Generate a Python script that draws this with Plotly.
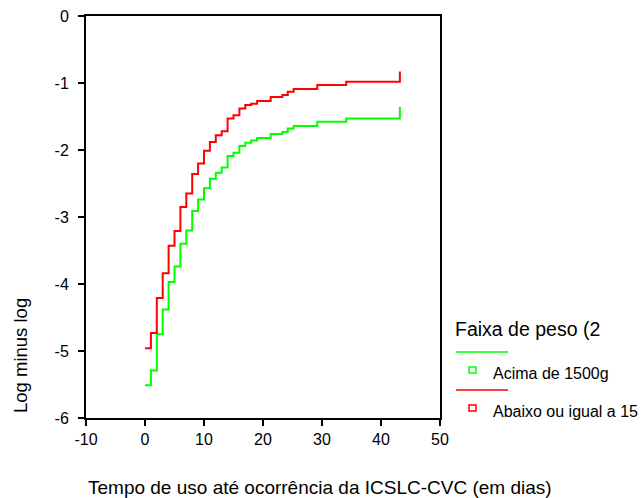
import plotly.graph_objects as go

# Step times (days) and log-minus-log values
times = [0, 1, 2, 3, 4, 5, 6, 7, 8, 9, 10, 11, 12, 13, 14, 15, 16, 17, 18, 19,
         21.3, 23.3, 24.2, 25.2, 29.2, 34.1, 43.2]
red_vals = [-4.96, -4.73, -4.21, -3.84, -3.43, -3.21, -2.85, -2.65, -2.36, -2.20,
            -2.01, -1.88, -1.78, -1.72, -1.53, -1.48, -1.38, -1.33, -1.31, -1.27,
            -1.21, -1.18, -1.13, -1.09, -1.03, -0.98, -0.83]
green_vals = [-5.51, -5.29, -4.75, -4.38, -3.97, -3.74, -3.40, -3.20, -2.91, -2.74,
              -2.57, -2.43, -2.34, -2.26, -2.09, -2.04, -1.94, -1.89, -1.86, -1.82,
              -1.76, -1.73, -1.68, -1.64, -1.58, -1.53, -1.36]

x_ticks = [-10, 0, 10, 20, 30, 40, 50]
x_ticklabels = ["-10", "0", "10", "20", "30", "40", "50"]
y_ticks = [0, -1, -2, -3, -4, -5, -6]
y_ticklabels = ["0", "-1", "-2", "-3", "-4", "-5", "-6"]

legend_title = "Faixa de peso (2"
series_names = ["Acima de 1500g", "Abaixo ou igual a 15"]
series_colors = ["#00ff00", "#ff0000"]

FONT = "Liberation Sans, Arial, sans-serif"

fig = go.Figure()
fig.add_trace(go.Scatter(x=times, y=green_vals, mode="lines", line=dict(color=series_colors[0], width=2, shape="hv"),
                         name=series_names[0], showlegend=False))
fig.add_trace(go.Scatter(x=times, y=red_vals, mode="lines", line=dict(color=series_colors[1], width=2, shape="hv"),
                         name=series_names[1], showlegend=False))

fig.update_layout(
    width=641, height=498,
    margin=dict(l=86, r=201, t=16, b=80, autoexpand=False),
    paper_bgcolor="white", plot_bgcolor="white",
    font=dict(family=FONT, color="black", size=13),
    xaxis=dict(range=[-10, 50], tickvals=x_ticks, ticktext=x_ticklabels, ticks="outside", ticklen=6, tickwidth=1.5,
               tickcolor="black", showline=True, linecolor="black", linewidth=2, mirror=True,
               showgrid=False, zeroline=False, tickfont=dict(size=16, family=FONT), automargin=False),
    yaxis=dict(range=[-6, 0], tickvals=y_ticks, ticktext=y_ticklabels, ticks="outside", ticklen=6, tickwidth=1.5,
               tickcolor="black", showline=True, linecolor="black", linewidth=2, mirror=True,
               showgrid=False, zeroline=False, tickfont=dict(size=16, family=FONT),
               ticklabelstandoff=6, automargin=False),
)

def px_x(px):
    return (px - 86) / (440 - 86)

def px_y(py):
    return (418 - py) / (418 - 16)

# Axis titles
fig.add_annotation(text="Tempo de uso até ocorrência da ICSLC-CVC (em dias)", xref="paper", yref="paper",
                   x=px_x(320), y=px_y(487), xanchor="center", yanchor="middle", showarrow=False,
                   font=dict(size=19, family=FONT))
fig.add_annotation(text="Log minus log", xref="paper", yref="paper", x=px_x(20), y=px_y(356),
                   xanchor="center", yanchor="middle", textangle=-90, showarrow=False,
                   font=dict(size=18.5, family=FONT))

# Manual legend
fig.add_annotation(text=legend_title, xref="paper", yref="paper", x=px_x(453), y=px_y(329),
                   xanchor="left", yanchor="middle", showarrow=False, font=dict(size=19.5, family=FONT))
for i, (nm, col) in enumerate(zip(series_names, series_colors)):
    ly = 352 + 38 * i
    fig.add_shape(type="line", xref="paper", yref="paper", x0=px_x(456), x1=px_x(508),
                  y0=px_y(ly), y1=px_y(ly), line=dict(color=col, width=1.5))
    fig.add_shape(type="rect", xref="paper", yref="paper", x0=px_x(469), x1=px_x(476),
                  y0=px_y(ly + 21), y1=px_y(ly + 15), line=dict(color=col, width=1.5))
    fig.add_annotation(text=nm, xref="paper", yref="paper", x=px_x(491), y=px_y(ly + 21),
                       xanchor="left", yanchor="middle", showarrow=False,
                       font=dict(size=16, family=FONT))

fig.write_html("out.html", config={"displayModeBar": False},
               post_script="document.body.style.margin='0';document.body.style.overflow='hidden';")
